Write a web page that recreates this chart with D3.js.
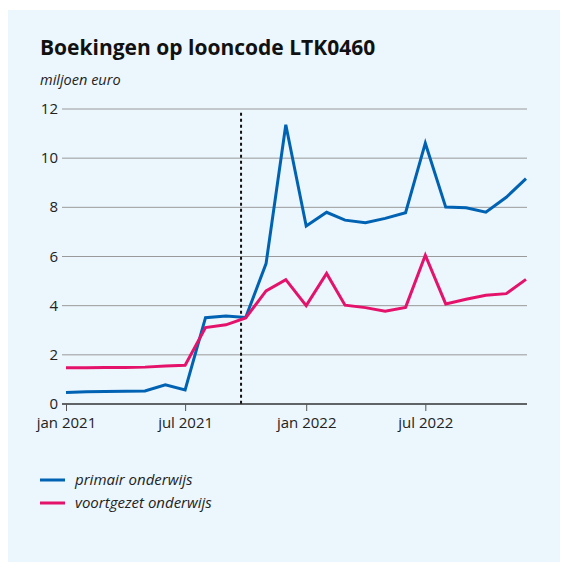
<!DOCTYPE html>
<html>
<head>
<meta charset="utf-8">
<script src="https://cdn.jsdelivr.net/npm/d3@7"></script>
<style>
  body { margin: 0; background: #fff; }
  svg { font-family: 'Open Sans', sans-serif; }
</style>
</head>
<body>
<svg id="chart" width="568" height="569"></svg>
<script>
// months jan 2021 .. dec 2022
const months = d3.timeMonths(new Date(2021, 0, 1), new Date(2023, 0, 1))
const primair = [0.47, 0.5, 0.51, 0.52, 0.53, 0.78, 0.57, 3.51, 3.58, 3.52, 5.71, 11.36,
  7.24, 7.8, 7.48, 7.37, 7.55, 7.78, 10.61, 8.01, 7.98, 7.8, 8.41, 9.17]
const voortgezet = [1.47, 1.47, 1.48, 1.48, 1.5, 1.55, 1.58, 3.11, 3.22, 3.5, 4.6, 5.06,
  4.0, 5.31, 4.02, 3.92, 3.77, 3.93, 6.05, 4.07, 4.26, 4.42, 4.49, 5.07]
const yTicks = [0, 2, 4, 6, 8, 10, 12]
const xTicks = [new Date(2021, 0, 1), new Date(2021, 6, 1), new Date(2022, 0, 1), new Date(2022, 6, 1)]
const xTickLabels = ['jan 2021', 'jul 2021', 'jan 2022', 'jul 2022']
const markerDate = new Date(2021, 8, 24)

const series = [
  {name: 'primair onderwijs', values: primair, color: '#0062b2'},
  {name: 'voortgezet onderwijs', values: voortgezet, color: '#e5126b'}
]

const margin = { top: 109, right: 42, bottom: 165, left: 66 }
const width = 568 - margin.left - margin.right
const height = 569 - margin.top - margin.bottom

const svg = d3.select('#chart')

// background panel
svg.append('rect')
  .attr('x', 8).attr('y', 10)
  .attr('width', 552).attr('height', 552)
  .attr('fill', '#ebf6fd')

// title + subtitle
svg.append('text')
  .attr('x', 40).attr('y', 55)
  .attr('font-size', 21).attr('font-weight', 'bold')
  .attr('fill', '#111')
  .text('Boekingen op looncode LTK0460')
svg.append('text')
  .attr('x', 40).attr('y', 85)
  .attr('font-size', 14.5).attr('font-style', 'italic')
  .attr('fill', '#222')
  .text('miljoen euro')

const x = d3.scaleTime()
  .domain([months[0], months[months.length - 1]])
  .range([margin.left, margin.left + width])
const y = d3.scaleLinear()
  .domain([0, 12])
  .range([margin.top + height, margin.top])

// gridlines
svg.append('g')
  .selectAll('line')
  .data(yTicks.filter(d => d > 0))
  .enter()
  .append('line')
  .attr('x1', margin.left - 4)
  .attr('x2', margin.left + width + 1)
  .attr('y1', d => y(d))
  .attr('y2', d => y(d))
  .attr('stroke', '#9a9a9a')
  .attr('stroke-width', 1)

// y labels
svg.append('g')
  .selectAll('text')
  .data(yTicks)
  .enter()
  .append('text')
  .attr('x', margin.left - 8)
  .attr('y', d => y(d) + 5)
  .attr('text-anchor', 'end')
  .attr('font-size', 15)
  .attr('fill', '#222')
  .text(d => d)

// x axis
const bottomAxis = d3.axisBottom(x)
  .tickValues(xTicks)
  .tickFormat((d, i) => xTickLabels[i])
  .tickSize(7)
  .tickSizeOuter(0)
svg.append('g')
  .attr('transform', `translate(0, ${margin.top + height})`)
  .call(bottomAxis)
  .call(g => g.select('.domain').attr('d', `M${margin.left - 4},0H${margin.left + width + 1}`).attr('stroke', '#333').attr('stroke-width', 1.5))
  .call(g => g.selectAll('.tick line').attr('stroke', '#555'))
  .call(g => g.selectAll('.tick text').attr('font-size', 15).attr('font-family', "'Open Sans', sans-serif").attr('fill', '#222').attr('dy', '0.9em'))

// dotted marker
svg.append('line')
  .attr('x1', x(markerDate)).attr('x2', x(markerDate))
  .attr('y1', y(11.85)).attr('y2', y(0))
  .attr('stroke', '#111')
  .attr('stroke-width', 2)
  .attr('stroke-dasharray', '3,3')

// lines
const line = d3.line()
  .x((d, i) => x(months[i]))
  .y(d => y(d))
svg.append('g')
  .selectAll('path')
  .data(series)
  .enter()
  .append('path')
  .attr('d', d => line(d.values))
  .attr('fill', 'none')
  .attr('stroke', d => d.color)
  .attr('stroke-width', 3)
  .attr('stroke-linejoin', 'miter')

// legend
const legend = svg.append('g')
  .selectAll('g')
  .data(series)
  .enter()
  .append('g')
  .attr('transform', (d, i) => `translate(40, ${480 + i * 23})`)
legend.append('line')
  .attr('x1', 0).attr('x2', 25)
  .attr('stroke', d => d.color)
  .attr('stroke-width', 3)
legend.append('text')
  .attr('x', 35).attr('y', 5)
  .attr('font-size', 15).attr('font-style', 'italic')
  .attr('fill', '#222')
  .text(d => d.name)
</script>
</body>
</html>
